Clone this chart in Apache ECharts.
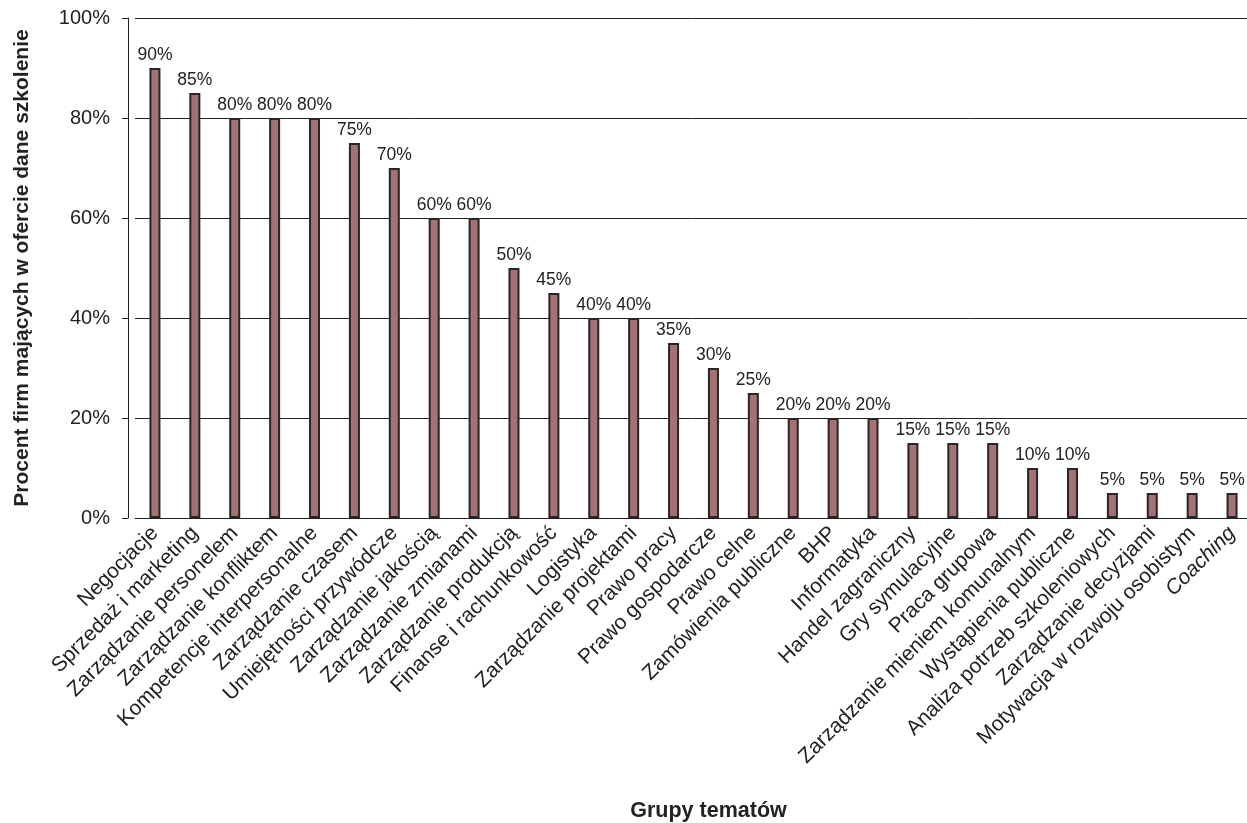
<!DOCTYPE html>
<html>
<head>
<meta charset="utf-8">
<script src="https://cdn.jsdelivr.net/npm/echarts@6/dist/echarts.min.js"></script>
<style>
  html, body { margin: 0; padding: 0; background: #fff; }
  #chart { width: 1247px; height: 823px; }
</style>
</head>
<body>
<div id="chart"></div>
<script>
// grupy tematów
const categories = [
  'Negocjacje', 'Sprzedaż i marketing', 'Zarządzanie personelem', 'Zarządzanie konfliktem',
  'Kompetencje interpersonalne', 'Zarządzanie czasem', 'Umiejętności przywódcze',
  'Zarządzanie jakością', 'Zarządzanie zmianami', 'Zarządzanie produkcją',
  'Finanse i rachunkowość', 'Logistyka', 'Zarządzanie projektami', 'Prawo pracy',
  'Prawo gospodarcze', 'Prawo celne', 'Zamówienia publiczne', 'BHP', 'Informatyka',
  'Handel zagraniczny', 'Gry symulacyjne', 'Praca grupowa', 'Zarządzanie mieniem komunalnym',
  'Wystąpienia publiczne', 'Analiza potrzeb szkoleniowych', 'Zarządzanie decyzjami',
  'Motywacja w rozwoju osobistym', 'Coaching'
]
// procent firm
const values = [90, 85, 80, 80, 80, 75, 70, 60, 60, 50, 45, 40, 40, 35, 30, 25, 20, 20, 20, 15, 15, 15, 10, 10, 5, 5, 5, 5]
const yTicks = [0, 20, 40, 60, 80, 100]

const font = 'Liberation Sans, Arial, sans-serif'
const chart = echarts.init(document.getElementById('chart'))

chart.setOption({
  animation: false,
  grid: { left: 135, right: -5, top: 18, bottom: 305, containLabel: false, outerBoundsMode: 'none' },
  xAxis: {
    type: 'category',
    data: categories,
    name: 'Grupy tematów',
    nameLocation: 'middle',
    nameGap: 282,
    nameTextStyle: { fontFamily: font, fontSize: 21.5, fontWeight: 'bold', color: '#222', padding: [0, 0, 0, 30] },
    axisLine: { show: true, lineStyle: { color: '#222', width: 1 } },
    axisTick: { show: false },
    axisLabel: {
      interval: 0,
      rotate: 45,
      margin: 12,
      fontFamily: font,
      fontSize: 21,
      color: '#222',
      formatter: v => v === 'Coaching' ? '{it|' + v + '}' : v,
      rich: { it: { fontStyle: 'italic', fontFamily: font, fontSize: 21, color: '#222' } }
    }
  },
  yAxis: {
    type: 'value',
    min: yTicks[0],
    max: yTicks[yTicks.length - 1],
    interval: 20,
    offset: 7,
    name: 'Procent firm mających w ofercie dane szkolenie',
    nameLocation: 'middle',
    nameGap: 95,
    nameTextStyle: { fontFamily: font, fontSize: 21, fontWeight: 'bold', color: '#222' },
    axisLine: { show: true, lineStyle: { color: '#222', width: 1 } },
    axisTick: { show: true, length: 6, lineStyle: { color: '#222' } },
    axisLabel: { fontFamily: font, fontSize: 20, color: '#222', margin: 18, formatter: '{value}%' },
    splitLine: { show: true, lineStyle: { color: '#222', width: 1 } }
  },
  series: [{
    type: 'bar',
    data: values,
    barWidth: 11,
    itemStyle: { color: '#a27274', borderColor: '#2b2424', borderWidth: 2 },
    label: {
      show: true,
      position: 'top',
      distance: 4,
      formatter: '{c}%',
      fontFamily: font,
      fontSize: 17.5,
      color: '#222'
    }
  }]
})
</script>
</body>
</html>
